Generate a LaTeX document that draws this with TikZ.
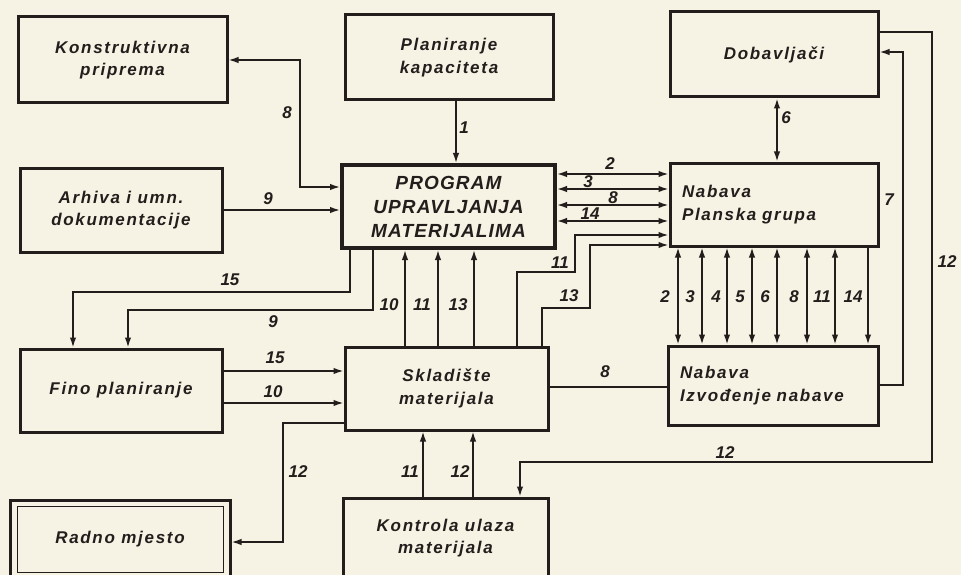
\documentclass[tikz,border=0pt]{standalone}
\usepackage{fontspec}
\usepackage{tikz}
\usetikzlibrary{arrows.meta}
\newfontfamily\boxfam[LetterSpace=10]{Liberation Sans}
\newfontfamily\progfam[LetterSpace=6]{Liberation Sans}
\newfontfamily\numfam{Liberation Sans}
\newcommand{\boxfont}{\boxfam\bfseries\itshape\fontsize{17}{22.5}\selectfont}
\newcommand{\progfont}{\progfam\bfseries\itshape\fontsize{19}{24}\selectfont}
\newcommand{\numfont}{\numfam\bfseries\itshape\fontsize{17}{18}\selectfont}
\definecolor{paper}{RGB}{246,242,228}
\definecolor{ink}{RGB}{35,30,28}
\tikzset{
  unitbox/.style={draw=ink, line width=3pt, minimum width=208pt, minimum height=84pt, inner sep=0pt, align=center, font=\boxfont, text=ink},
  mainbox/.style={unitbox, line width=4pt, minimum width=213pt, minimum height=83pt, font=\progfont},
  planbox/.style={unitbox, align=left, text width=184pt, inner xsep=12pt},
  innerframe/.style={draw=ink, line width=1pt, minimum width=206pt, minimum height=66pt, inner sep=0pt},
  line/.style={-{Latex[length=10pt,width=6.5pt]}, draw=ink, line width=1.6pt},
  twoway/.style={{Latex[length=10pt,width=6.5pt]}-{Latex[length=10pt,width=6.5pt]}, draw=ink, line width=1.6pt},
  plain/.style={draw=ink, line width=1.6pt},
  numlabel/.style={font=\numfont, text=ink, inner sep=1pt}
}

\begin{document}
\begin{tikzpicture}[x=1pt,y=-1pt]
  \fill[paper] (0,0) rectangle (961,575);
  \useasboundingbox (0,0) rectangle (961,575);

  % boxes
  \node[unitbox, minimum width=209pt, minimum height=86pt] (konstr) at (122.5,60) {Konstruktivna\\priprema};
  \node[unitbox, minimum height=85pt] (kapac) at (449,57.5) {Planiranje\\kapaciteta};
  \node[unitbox, minimum height=85pt] (dobav) at (774,54.5) {Dobavljači};
  \node[unitbox, minimum width=202pt] (arhiva) at (121,210) {Arhiva i umn.\\dokumentacije};
  \node[mainbox] (program) at (448.5,206.5) {PROGRAM\\UPRAVLJANJA\\MATERIJALIMA};
  \node[planbox, minimum height=83pt] (planska) at (774,204.5) {Nabava\\Planska grupa};
  \node[unitbox, minimum width=202pt, minimum height=83pt] (fino) at (121,390.5) {Fino planiranje};
  \node[unitbox, minimum width=203pt, minimum height=83pt] (sklad) at (446.5,388.5) {Skladište\\materijala};
  \node[planbox, text width=186pt, minimum height=79pt] (izvod) at (773,385.5) {Nabava\\Izvođenje nabave};
  \node[unitbox, minimum width=220pt, minimum height=78pt] (radno) at (120,539) {Radno mjesto};
  \node[innerframe] (radnoin) at (radno.center) {};
  \node[unitbox, minimum width=205pt, minimum height=80pt] (kontrola) at (445.5,538) {Kontrola ulaza\\materijala};

  % into the program
  \coordinate (k8) at (300,187);
  \draw[twoway] (konstr.east) -| (k8) -- (k8 -| program.west);
  \node[numlabel] (n8a) at (287,113) {8};
  \draw[line] (arhiva.east) -- (arhiva.east -| program.west);
  \node[numlabel] (n9a) at (268,199) {9};
  \coordinate (x1) at (456,0);
  \draw[line] (kapac.south -| x1) -- (program.north -| x1);
  \node[numlabel] (n1) at (464,128) {1};
  \coordinate (x6) at (777,0);
  \draw[twoway] (dobav.south -| x6) -- (planska.north -| x6);
  \node[numlabel] (n6) at (786,118) {6};

  \foreach \y/\t/\lx/\ly [count=\i] in {174/2/610/164, 189/3/588/182, 205/8/613/198, 221/14/590/214} {
    \coordinate (h\i) at (0,\y);
    \draw[twoway] (program.east |- h\i) -- (planska.west |- h\i);
    \node[numlabel] (nh\i) at (\lx,\ly) {\t};
  }

  % skladiste to planska grupa
  \coordinate (a11) at (517,272);
  \coordinate (b11) at (575,235);
  \draw[line] (sklad.north -| a11) -- (a11) -| (b11) -- (b11 -| planska.west);
  \node[numlabel] (n11a) at (560,263) {11};
  \coordinate (a13) at (542,308);
  \coordinate (b13) at (590,245);
  \draw[line] (sklad.north -| a13) -- (a13) -| (b13) -- (b13 -| planska.west);
  \node[numlabel] (n13a) at (569,296) {13};

  \foreach \x/\t/\lx [count=\i] in {405/10/389, 438/11/422, 474/13/458} {
    \coordinate (u\i) at (\x,0);
    \draw[line] (sklad.north -| u\i) -- (program.south -| u\i);
    \node[numlabel] (nu\i) at (\lx,305) {\t};
  }

  % program to fino planiranje
  \coordinate (c15) at (350,292);
  \coordinate (d15) at (73,292);
  \draw[line] (program.south -| c15) -- (c15) -- (d15) -- (fino.north -| d15);
  \node[numlabel] (n15a) at (230,280) {15};
  \coordinate (c9) at (373,310);
  \coordinate (d9) at (128,310);
  \draw[line] (program.south -| c9) -- (c9) -- (d9) -- (fino.north -| d9);
  \node[numlabel] (n9b) at (273,322) {9};

  \coordinate (f15) at (0,371);
  \coordinate (f10) at (0,403);
  \draw[line] (fino.east |- f15) -- (sklad.west |- f15);
  \node[numlabel] (n15b) at (275,358) {15};
  \draw[line] (fino.east |- f10) -- (sklad.west |- f10);
  \node[numlabel] (n10b) at (273,392) {10};

  \coordinate (c12) at (283,423);
  \coordinate (d12) at (283,542);
  \draw[line] (sklad.west |- c12) -- (c12) -- (d12) -- (radno.east |- d12);
  \node[numlabel] (n12a) at (298,472) {12};

  \foreach \x/\t/\lx [count=\i] in {423/11/410, 473/12/460} {
    \coordinate (k\i) at (\x,0);
    \draw[line] (kontrola.north -| k\i) -- (sklad.south -| k\i);
    \node[numlabel] (nk\i) at (\lx,472) {\t};
  }

  \coordinate (s8) at (0,387);
  \draw[plain] (sklad.east |- s8) -- (izvod.west |- s8);
  \node[numlabel] (n8b) at (605,372) {8};

  % planska grupa to izvodenje
  \foreach \x/\t/\lx [count=\i] in {678/2/665, 702/3/690, 727/4/716, 752/5/740, 777/6/765, 807/8/794, 835/11/822} {
    \coordinate (v\i) at (\x,0);
    \draw[twoway] (planska.south -| v\i) -- (izvod.north -| v\i);
    \node[numlabel] (nv\i) at (\lx,297) {\t};
  }
  \coordinate (v14) at (868,0);
  \draw[line] (planska.south -| v14) -- (izvod.north -| v14);
  \node[numlabel] (nv14) at (853,297) {14};

  % back to dobavljaci
  \coordinate (c7) at (903,385);
  \coordinate (d7) at (903,52);
  \draw[line] (izvod.east |- c7) -- (c7) -- (d7) -- (dobav.east |- d7);
  \node[numlabel] (n7) at (889,200) {7};
  \coordinate (e1) at (932,32);
  \coordinate (e2) at (932,462);
  \coordinate (e3) at (520,462);
  \draw[line] (dobav.east |- e1) -- (e1) -- (e2) -- (e3) -- (kontrola.north -| e3);
  \node[numlabel] (n12b) at (947,262) {12};
  \node[numlabel] (n12c) at (725,453) {12};
\end{tikzpicture}
\end{document}
